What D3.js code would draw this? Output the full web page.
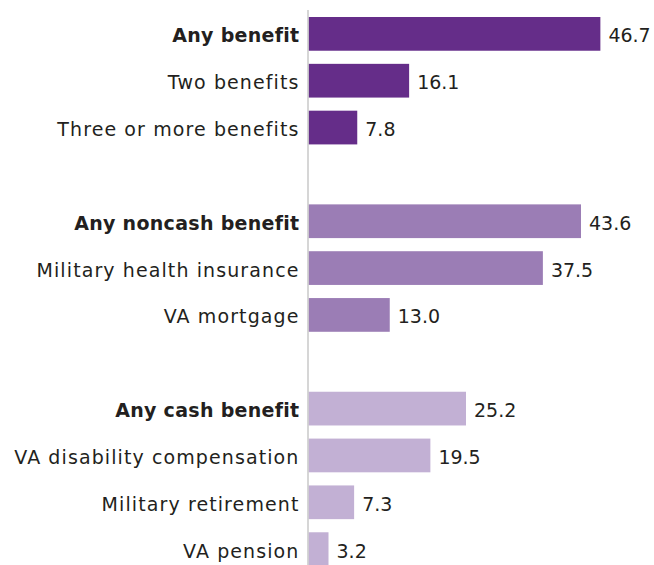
<!DOCTYPE html>
<html lang="en">
<head>
    <meta charset="UTF-8">
    <title>Benefits</title>
    <style>
        body { margin: 0; background: #fff; }
        svg text { font-family: "DejaVu Sans", sans-serif; fill: #231f20; }
    </style>
    <script src="https://d3js.org/d3.v7.min.js"></script>
</head>
<body>
    <div id="chart"></div>
    <script>
        // data
        const labels = ["Any benefit", "Two benefits", "Three or more benefits",
            "Any noncash benefit", "Military health insurance", "VA mortgage",
            "Any cash benefit", "VA disability compensation", "Military retirement", "VA pension"];
        const values = [46.7, 16.1, 7.8, 43.6, 37.5, 13.0, 25.2, 19.5, 7.3, 3.2];
        const groups = [0, 0, 0, 1, 1, 1, 2, 2, 2, 2];
        const headers = ["Any benefit", "Any noncash benefit", "Any cash benefit"];
        const colors = ["#652d89", "#9b7db5", "#c2b0d4"];

        const W = 654, H = 565;
        const x0 = 308.5;

        // slots: blank row between groups
        const slots = [];
        labels.forEach((d, i) => {
            if (i > 0 && groups[i] !== groups[i - 1]) slots.push("gap" + i);
            slots.push(d);
        });

        const x = d3.scaleLinear().domain([0, 10]).range([x0, x0 + 62.5]);
        const y = d3.scaleBand().domain(slots).range([17, 566]).paddingInner(0.28).paddingOuter(0);

        const svg = d3.select("#chart").append("svg")
            .attr("width", W)
            .attr("height", H);

        svg.selectAll("rect.bar")
            .data(values)
            .enter().append("rect")
            .attr("class", "bar")
            .attr("x", x(0))
            .attr("y", (d, i) => y(labels[i]))
            .attr("width", d => x(d) - x(0))
            .attr("height", y.bandwidth())
            .attr("fill", (d, i) => colors[groups[i]]);

        // axis line
        svg.append("line")
            .attr("x1", x0 - 0.5).attr("x2", x0 - 0.5)
            .attr("y1", 10).attr("y2", H)
            .attr("stroke", "#c8c8c8")
            .attr("stroke-width", 1.5);

        svg.selectAll("text.cat")
            .data(labels)
            .enter().append("text")
            .attr("class", "cat")
            .attr("x", x0 - 9)
            .attr("y", d => y(d) + y.bandwidth() / 2)
            .attr("dy", "0.45em")
            .attr("text-anchor", "end")
            .attr("font-size", 19)
            .attr("font-weight", d => headers.includes(d) ? 700 : 400)
            .style("letter-spacing", d => headers.includes(d) ? "0.3px" : "1.1px")
            .text(d => d);

        svg.selectAll("text.val")
            .data(values)
            .enter().append("text")
            .attr("class", "val")
            .attr("x", d => x(d) + 8)
            .attr("y", (d, i) => y(labels[i]) + y.bandwidth() / 2)
            .attr("dy", "0.45em")
            .attr("font-size", 19)
            .text(d => d.toFixed(1));
    </script>
</body>
</html>
